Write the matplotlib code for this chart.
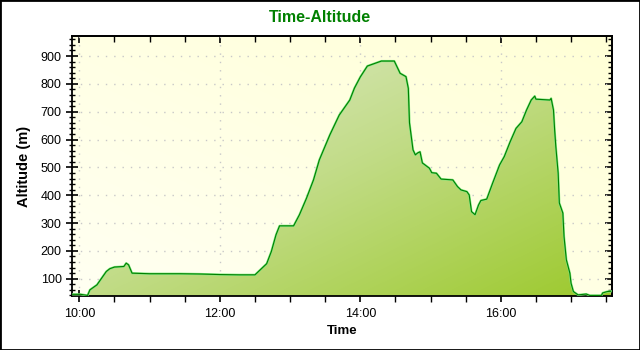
import numpy as np
import matplotlib.pyplot as plt
from matplotlib.colors import LinearSegmentedColormap
from matplotlib.ticker import MultipleLocator, FuncFormatter
from matplotlib.patches import Rectangle

plt.rcParams['font.family'] = ['Liberation Sans', 'DejaVu Sans']

# track points
times = ["09:54", "10:01", "10:07", "10:09", "10:15", "10:19", "10:23", "10:26", "10:30",
         "10:38", "10:40", "10:42", "10:45", "11:00", "11:26", "11:43", "12:00", "12:17",
         "12:30", "12:34", "12:40", "12:44", "12:48", "12:51", "13:03", "13:08", "13:14",
         "13:20", "13:25", "13:34", "13:42", "13:51", "13:55", "14:00", "14:06", "14:18",
         "14:29", "14:34", "14:39", "14:41", "14:42", "14:45", "14:47", "14:49", "14:51",
         "14:53", "14:59", "15:01", "15:05", "15:09", "15:19", "15:23", "15:26", "15:31",
         "15:33", "15:35", "15:38", "15:41", "15:43", "15:48", "15:53", "15:59", "16:03",
         "16:08", "16:13", "16:18", "16:22", "16:26", "16:29", "16:30", "16:42", "16:43",
         "16:45", "16:46", "16:47", "16:49", "16:50", "16:53", "16:54", "16:56", "16:59",
         "17:00", "17:02", "17:06", "17:13", "17:16", "17:26", "17:27", "17:31", "17:34"]
altitude = [44, 44, 40, 60, 78, 102, 126, 136, 142,
            144, 156, 150, 120, 118, 118, 117, 115, 114,
            114, 130, 154, 198, 258, 290, 290, 330, 389,
            455, 527, 617, 688, 742, 785, 825, 864, 882,
            882, 838, 826, 784, 660, 563, 545, 552, 556,
            516, 497, 481, 479, 458, 455, 431, 419, 413,
            401, 341, 330, 365, 381, 386, 443, 509, 539,
            592, 640, 664, 706, 742, 756, 745, 742, 748,
            706, 634, 575, 479, 372, 336, 252, 168, 120,
            84, 54, 42, 45, 40, 40, 49, 54, 55]

hours = np.array([int(t[:2]) + int(t[3:]) / 60 for t in times])
alt = np.array(altitude, dtype=float)

x0, x1 = 9 + 53.7 / 60, 17 + 35 / 60
y0, y1 = 38, 972

fig = plt.figure(figsize=(6.4, 3.5), dpi=100)
ax = fig.add_axes([72 / 640, 54 / 350, 540 / 640, 260 / 350])
ax.set_xlim(x0, x1)
ax.set_ylim(y0, y1)

# yellow background gradient
u, v = np.meshgrid(np.linspace(0, 1, 200), np.linspace(0, 1, 200))
bg = LinearSegmentedColormap.from_list('bg', ['#fffff2', '#ffffd6'])
ax.imshow((u + v) / 2, cmap=bg, extent=[x0, x1, y0, y1], origin='lower',
          aspect='auto', zorder=0, interpolation='bilinear')

ax.grid(True, which='major', color='#c8c8c8', linestyle=(0, (1, 5)), lw=1, zorder=1)

# green gradient fill under the profile
fill = ax.fill_between(hours, alt, y0, color='none', lw=0, zorder=2)
fg = LinearSegmentedColormap.from_list('fg', ['#e4edd6', '#c2dc88', '#9cc92c'])
img = ax.imshow((u + (1 - v)) / 2, cmap=fg, extent=[x0, x1, y0, y1], origin='lower',
                aspect='auto', zorder=2, interpolation='bilinear')
img.set_clip_path(fill.get_paths()[0], transform=ax.transData)

ax.plot(hours, alt, color='#80e880', lw=1.6, zorder=3)
ax.plot(hours, alt, color='#008000', lw=0.8, zorder=4)

ax.xaxis.set_major_locator(MultipleLocator(2))
ax.xaxis.set_minor_locator(MultipleLocator(0.5))
ax.xaxis.set_major_formatter(FuncFormatter(lambda h, p: f"{int(round(h)):02d}:00"))
ax.yaxis.set_major_locator(MultipleLocator(100))
ax.yaxis.set_minor_locator(MultipleLocator(20))
ax.tick_params(axis='y', which='major', direction='inout', length=8, width=1.2, labelsize=9)
ax.tick_params(axis='y', which='minor', direction='inout', length=5, width=1)
ax.tick_params(axis='x', which='major', direction='inout', length=9, width=1.2, labelsize=9, pad=4)
ax.tick_params(axis='x', which='minor', direction='out', length=4, width=1)

sx = ax.secondary_xaxis('top')
sx.xaxis.set_major_locator(MultipleLocator(2))
sx.xaxis.set_minor_locator(MultipleLocator(0.5))
sx.tick_params(which='major', direction='in', length=5, width=1.2, labeltop=False)
sx.tick_params(which='minor', direction='in', length=4, width=1)
sy = ax.secondary_yaxis('right')
sy.yaxis.set_major_locator(MultipleLocator(100))
sy.yaxis.set_minor_locator(MultipleLocator(20))
sy.tick_params(which='major', direction='in', length=5, width=1.2, labelright=False)
sy.tick_params(which='minor', direction='in', length=3, width=1)

for s in ax.spines.values():
    s.set_linewidth(1.3)
for s in list(sx.spines.values()) + list(sy.spines.values()):
    s.set_linewidth(1.3)

ax.set_xlabel('Time', fontsize=9.5, fontweight='bold', labelpad=4)
ax.set_ylabel('Altitude (m)', fontsize=10.5, fontweight='bold', labelpad=7)
fig.text(0.5, 1 - 17 / 350, 'Time-Altitude', ha='center', va='center',
         fontsize=11.5, fontweight='bold', color='#008000')

fig.patches.append(Rectangle((0, 0), 1, 1, transform=fig.transFigure, fill=False,
                             edgecolor='black', lw=2))

fig.savefig('out.png', dpi=100)
